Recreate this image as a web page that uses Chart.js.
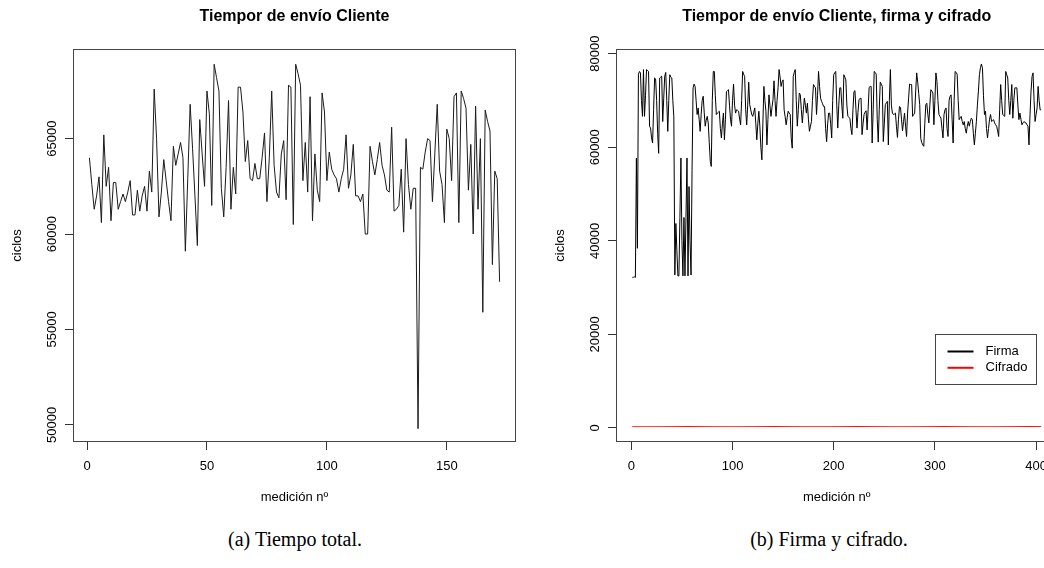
<!DOCTYPE html>
<html>
<head>
<meta charset="utf-8">
<script src="https://cdn.jsdelivr.net/npm/chart.js@4.4.1/dist/chart.umd.min.js"></script>
<style>
html, body { margin: 0; padding: 0; background: #fff; }
body { width: 1044px; height: 568px; overflow: hidden; position: relative; }
canvas { position: absolute; top: 0; }
#cA { left: 0; }
#cB { left: 530px; }
.cap { position: absolute; top: 528px; font-family: "Liberation Serif", "DejaVu Serif", serif; font-size: 20px; color: #000; white-space: nowrap; transform: translateX(-50%); }
</style>
</head>
<body>
<canvas id="cA" width="530" height="520"></canvas>
<canvas id="cB" width="560" height="520"></canvas>
<div class="cap" style="left:295px">(a) Tiempo total.</div>
<div class="cap" style="left:829px">(b) Firma y cifrado.</div>
<script>
// panel (a): ciclos por medición, tiempo total del cliente
const tiempoTotal = [
  64000, 62600, 61300, 62000, 63000, 60600, 65200, 62500, 63500, 60700,
  62700, 62700, 61300, 61700, 62100, 61700, 62200, 62800, 61000, 61000,
  62300, 61200, 62000, 62500, 61200, 63300, 62200, 67600, 65000, 60900,
  62200, 63900, 62800, 61700, 60700, 64600, 63600, 64200, 64800, 64000,
  59100, 62900, 66800, 64500, 62000, 59400, 66000, 64200, 62500, 67500,
  66300, 61500, 68900, 68200, 67500, 62400, 60900, 63500, 67000, 61300,
  63500, 62100, 67700, 67700, 66400, 63800, 64900, 62900, 62800, 63700,
  62900, 62900, 64000, 65300, 61700, 64000, 67500, 63600, 62200, 61900,
  64200, 64900, 61800, 67800, 67700, 60500, 68900, 68400, 67800, 62800,
  64800, 62200, 67200, 60700, 64200, 62300, 61700, 67400, 66400, 62800,
  64300, 63400, 63100, 62900, 62200, 62900, 63400, 65200, 62400, 63100,
  64700, 62000, 62000, 61700, 62100, 60000, 60000, 64600, 63800, 63100,
  63900, 64800, 63600, 63100, 62300, 62200, 65600, 61200, 61300, 61500,
  63400, 60100, 65000, 62600, 61300, 62400, 62400, 49800, 63500, 63400,
  64300, 65000, 64900, 61700, 64200, 66800, 63300, 62600, 60600, 65500,
  65000, 62800, 67200, 67400, 60600, 67500, 67100, 66600, 62300, 64700,
  60000, 66700, 61300, 65000, 55900, 66500, 65900, 65400, 58400, 63300,
  62900, 57500
];

// panel (b): ciclos de la firma
const firma = [
  32200, 32200, 32300, 32200, 57700, 38400, 75600, 76200, 75900, 70000,
  66600, 76600, 66600, 71000, 76600, 76400, 76200, 64500, 64100, 62000,
  60900, 68000, 74800, 74600, 70000, 63000, 58700, 74800, 75000, 75200,
  65500, 70500, 75200, 76000, 70000, 63400, 70000, 75500, 75000, 74800,
  70000, 66500, 32700, 43700, 38000, 32500, 32500, 45000, 57700, 40000,
  32500, 45000, 32500, 45000, 57700, 32500, 51600, 40000, 32700, 55000,
  72700, 73500, 73000, 70000, 67000, 68400, 66000, 63400, 67000, 70000,
  70900, 67500, 64500, 65800, 66600, 65200, 61000, 57000, 55900, 70000,
  76200, 76200, 71000, 67000, 67300, 67500, 67700, 64000, 62000, 65000,
  67300, 61600, 66000, 71900, 72100, 72300, 69000, 66000, 64500, 70000,
  73500, 69000, 67300, 68000, 67900, 67700, 66000, 64800, 70000, 76200,
  75600, 75100, 68000, 64800, 69000, 73900, 69100, 68000, 67000, 66600,
  67500, 68400, 65000, 61600, 65000, 67700, 64500, 60000, 57300, 65000,
  73000, 70000, 67700, 60500, 66000, 71200, 68900, 66600, 68500, 70200,
  74200, 70000, 66600, 70000, 72700, 76600, 75000, 73000, 74000, 74400,
  68000, 66500, 64800, 66300, 67700, 67300, 67000, 62000, 59800, 75100,
  76000, 76600, 70000, 64500, 68000, 71600, 71200, 68000, 65200, 68000,
  70500, 69000, 67300, 69400, 66000, 63400, 64500, 65500, 70000, 73400,
  73000, 72700, 67000, 71000, 76200, 73000, 70500, 69800, 69300, 68700,
  68700, 64000, 61200, 65000, 67300, 67300, 65000, 62000, 70000, 75500,
  75900, 76200, 69000, 64100, 69000, 72700, 72700, 69000, 66200, 75500,
  75000, 74400, 69000, 66600, 66400, 66200, 64000, 62700, 68000, 71900,
  72100, 68000, 64100, 67500, 70200, 70400, 70500, 62700, 65000, 67000,
  67500, 67800, 63700, 68000, 72800, 73000, 73000, 60900, 68000, 76200,
  76000, 75600, 66000, 61100, 68000, 73900, 73500, 73000, 61200, 65000,
  69100, 69500, 69800, 60500, 70000, 76600, 69000, 67300, 67000, 67100,
  67300, 64500, 62100, 66000, 68700, 68500, 66000, 63500, 65500, 67300,
  64500, 62300, 67300, 70500, 73500, 73400, 73400, 66600, 67000, 67300,
  72000, 75900, 73900, 71500, 69100, 61900, 61000, 60500, 60200, 65000,
  69100, 69400, 67000, 65200, 69000, 72300, 72000, 71600, 64800, 70000,
  75900, 74100, 70000, 67000, 66600, 66200, 64000, 62000, 67000, 68000,
  68400, 64000, 62300, 70000, 70900, 71200, 66000, 60900, 70000, 76200,
  76000, 75600, 70000, 65900, 66300, 66600, 65500, 64800, 65500, 64000,
  63000, 64500, 65500, 64500, 65500, 66200, 65900, 63000, 60500, 63000,
  65500, 69000, 72000, 75500, 77000, 77800, 76900, 71000, 67000, 67700,
  64000, 62000, 64000, 66000, 67000, 65500, 65700, 65900, 65200, 64800,
  64500, 63500, 62300, 68000, 73400, 70000, 67000, 66800, 66600, 76200,
  75500, 74800, 70000, 67000, 70000, 73400, 66200, 70000, 72700, 72700,
  72700, 69000, 65900, 67300, 66000, 64800, 65200, 65500, 65300, 65200,
  64800, 64500, 60500, 67000, 72000, 75100, 75900, 70000, 65500, 67000,
  68400, 73000, 70000, 68000, 68000
];

// panel (b): ciclos del cifrado (casi cero en esta escala)
const cifrado = [
  300, 300, 300, 300, 300, 300, 300, 300, 300, 300, 300, 300, 300, 300, 300, 300, 300, 300, 300, 300, 300, 300, 300, 300, 300, 300, 300,
  300, 300, 300, 300, 300, 300, 300, 300, 300, 300, 300, 300, 300, 300, 300, 300, 300, 300, 300, 300, 300, 300, 300, 300, 300, 300, 300,
  300, 300, 300, 300, 300, 300, 300, 300, 300, 300, 300, 300, 300, 300, 300, 300, 300, 300, 300, 300, 300, 300, 300, 300, 300, 300, 300,
  300, 300, 300, 300, 300, 300, 300, 300, 300, 300, 300, 300, 300, 300, 300, 300, 300, 300, 300, 300, 300, 300, 300, 300, 300, 300, 300,
  300, 300, 300, 300, 300, 300, 300, 300, 300, 300, 300, 300, 300, 300, 300, 300, 300, 300, 300, 300, 300, 300, 300, 300, 300, 300, 300,
  300, 300, 300, 300, 300, 300, 300, 300, 300, 300, 300, 300, 300, 300, 300, 300, 300, 300, 300, 300, 300, 300, 300, 300, 300, 300, 300,
  300, 300, 300, 300, 300, 300, 300, 300, 300, 300, 300, 300, 300, 300, 300, 300, 300, 300, 300, 300, 300, 300, 300, 300, 300, 300, 300,
  300, 300, 300, 300, 300, 300, 300, 300, 300, 300, 300, 300, 300, 300, 300, 300, 300, 300, 300, 300, 300, 300, 300, 300, 300, 300, 300,
  300, 300, 300, 300, 300, 300, 300, 300, 300, 300, 300, 300, 300, 300, 300, 300, 300, 300, 300, 300, 300, 300, 300, 300, 300, 300, 300,
  300, 300, 300, 300, 300, 300, 300, 300, 300, 300, 300, 300, 300, 300, 300, 300, 300, 300, 300, 300, 300, 300, 300, 300, 300, 300, 300,
  300, 300, 300, 300, 300, 300, 300, 300, 300, 300, 300, 300, 300, 300, 300, 300, 300, 300, 300, 300, 300, 300, 300, 300, 300, 300, 300,
  300, 300, 300, 300, 300, 300, 300, 300, 300, 300, 300, 300, 300, 300, 300, 300, 300, 300, 300, 300, 300, 300, 300, 300, 300, 300, 300,
  300, 300, 300, 300, 300, 300, 300, 300, 300, 300, 300, 300, 300, 300, 300, 300, 300, 300, 300, 300, 300, 300, 300, 300, 300, 300, 300,
  300, 300, 300, 300, 300, 300, 300, 300, 300, 300, 300, 300, 300, 300, 300, 300, 300, 300, 300, 300, 300, 300, 300, 300, 300, 300, 300,
  300, 300, 300, 300, 300, 300, 300, 300, 300, 300, 300, 300, 300, 300, 300, 300, 300, 300, 300, 300, 300, 300, 300, 300, 300, 300, 300
];

const ticksXA = [0, 50, 100, 150];
const ticksYA = [50000, 55000, 60000, 65000];
const ticksXB = [0, 100, 200, 300, 400];
const ticksYB = [0, 20000, 40000, 60000, 80000];

Chart.defaults.font.family = '"Liberation Sans", Arial, Helvetica, sans-serif';
Chart.defaults.font.size = 13;
Chart.defaults.color = '#000';

// medición nº empieza en 1
const aPuntos = serie => serie.map((v, i) => ({ x: i + 1, y: v }));

// caja alrededor del área y título centrado sobre ella (como en R)
const marco = {
  id: 'marco',
  afterDraw(chart, args, opts) {
    const { ctx, chartArea: a } = chart;
    ctx.save();
    ctx.strokeStyle = '#444';
    ctx.lineWidth = 1;
    ctx.strokeRect(Math.round(a.left) + 0.5, Math.round(a.top) + 0.5,
      Math.round(a.right) - Math.round(a.left) - 1, Math.round(a.bottom) - Math.round(a.top) - 1);
    ctx.fillStyle = '#000';
    ctx.font = 'bold 16px "Liberation Sans", Arial, sans-serif';
    ctx.textAlign = 'center';
    ctx.textBaseline = 'middle';
    ctx.fillText(opts.titulo, (a.left + a.right) / 2, 17);
    ctx.restore();
  }
};

// leyenda con caja, colocada en coordenadas de los datos
const leyenda = {
  id: 'leyenda',
  afterDraw(chart, args, opts) {
    const { ctx, scales } = chart;
    const x0 = Math.round(scales.x.getPixelForValue(opts.x)) + 0.5;
    const y0 = Math.round(scales.y.getPixelForValue(opts.y)) + 0.5;
    ctx.save();
    ctx.fillStyle = '#fff';
    ctx.fillRect(x0, y0, 101, 50);
    ctx.strokeStyle = '#444';
    ctx.lineWidth = 1;
    ctx.strokeRect(x0, y0, 101, 50);
    ctx.font = '13px "Liberation Sans", Arial, sans-serif';
    ctx.textBaseline = 'middle';
    chart.data.datasets.forEach((ds, k) => {
      const y = y0 + 17 + k * 16.3;
      ctx.strokeStyle = ds.borderColor;
      ctx.lineWidth = 2;
      ctx.beginPath();
      ctx.moveTo(x0 + 12, y);
      ctx.lineTo(x0 + 38, y);
      ctx.stroke();
      ctx.fillStyle = '#000';
      ctx.fillText(ds.label, x0 + 50, y);
    });
    ctx.restore();
  }
};

function ejes(xMin, xMax, yMin, yMax, xTicks, yTicks, anchoY, tituloY) {
  return {
    x: {
      type: 'linear', min: xMin, max: xMax,
      afterBuildTicks: s => { s.ticks = xTicks.map(v => ({ value: v })); },
      afterFit: s => { s.height = 62.8; },
      grid: { display: true, drawOnChartArea: false, drawTicks: true, tickLength: 8, color: '#333' },
      border: { display: false },
      ticks: { padding: 8.2, maxRotation: 0, autoSkip: false, callback: v => String(v) },
      title: { display: true, text: 'medición nº', padding: { top: 0, bottom: 0 } }
    },
    y: {
      type: 'linear', min: yMin, max: yMax,
      afterBuildTicks: s => { s.ticks = yTicks.map(v => ({ value: v })); },
      afterFit: s => { s.width = anchoY; },
      grid: { display: true, drawOnChartArea: false, drawTicks: true, tickLength: 8, color: '#333' },
      border: { display: false },
      ticks: { minRotation: 90, maxRotation: 90, crossAlign: 'center', padding: -5, autoSkip: false, callback: v => String(v) },
      title: { display: true, text: 'ciclos', padding: { top: tituloY, bottom: 0 } }
    }
  };
}

new Chart(document.getElementById('cA'), {
  type: 'line',
  data: {
    datasets: [{
      label: 'Tiempo total',
      data: aPuntos(tiempoTotal),
      borderColor: '#1a1a1a',
      borderWidth: 1,
      pointRadius: 0,
      tension: 0,
      fill: false
    }]
  },
  options: {
    responsive: false,
    animation: false,
    layout: { padding: { top: 49, left: 0, right: 14, bottom: 15.2 } },
    plugins: {
      legend: { display: false },
      tooltip: { enabled: false },
      marco: { titulo: 'Tiempor de envío Cliente' }
    },
    scales: ejes(-5.84, 178.84, 49100, 69700, ticksXA, ticksYA, 73, 9.7)
  },
  plugins: [marco]
});

new Chart(document.getElementById('cB'), {
  type: 'line',
  data: {
    datasets: [
      {
        label: 'Firma',
        data: aPuntos(firma),
        borderColor: '#000000',
        borderWidth: 1,
        pointRadius: 0,
        tension: 0,
        fill: false
      },
      {
        label: 'Cifrado',
        data: aPuntos(cifrado),
        borderColor: '#ff0000',
        borderWidth: 1,
        pointRadius: 0,
        tension: 0,
        fill: false
      }
    ]
  },
  options: {
    responsive: false,
    animation: false,
    layout: { padding: { top: 49, left: 0, right: 32.5, bottom: 15.2 } },
    plugins: {
      legend: { display: false },
      tooltip: { enabled: false },
      marco: { titulo: 'Tiempor de envío Cliente, firma y cifrado' },
      leyenda: { x: 300, y: 20000 }
    },
    scales: ejes(-15.16, 421.16, -3000, 81000, ticksXB, ticksYB, 86, 22.7)
  },
  plugins: [marco, leyenda]
});
</script>
</body>
</html>
